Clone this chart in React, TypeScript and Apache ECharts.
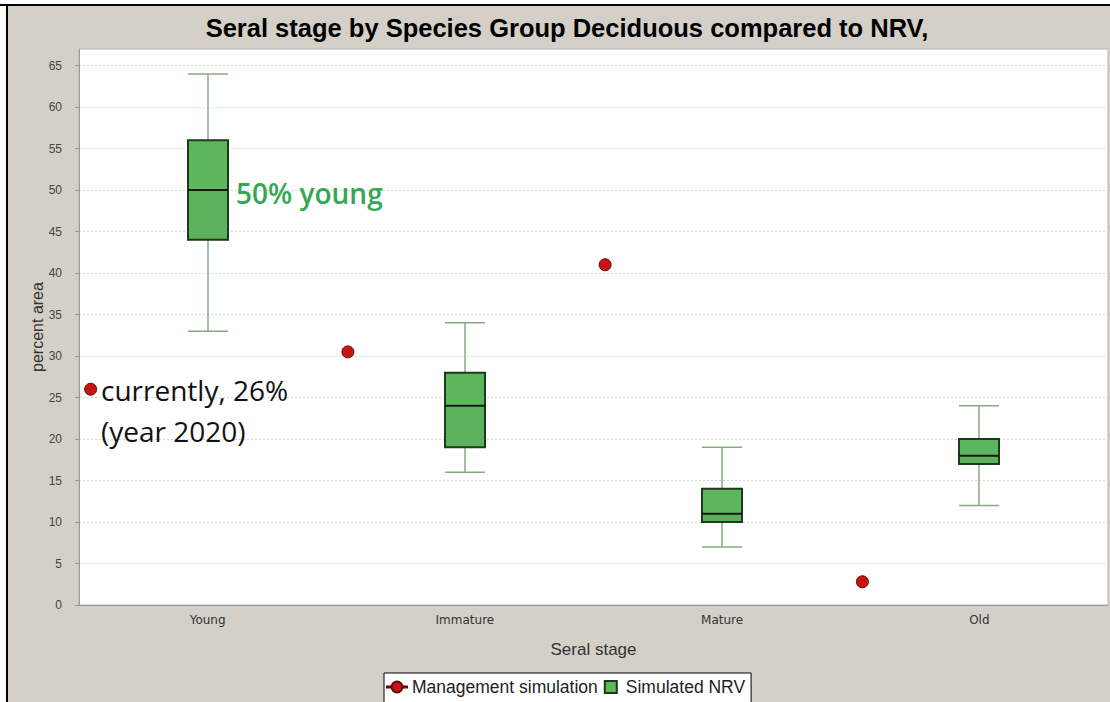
import React, { useEffect, useRef } from "react";
import * as echarts from "echarts";

// Seral stages along the x axis
const stages = ["Young", "Immature", "Mature", "Old"];

// Simulated NRV box statistics per stage (percent area)
const nrvLow = [33, 16, 7, 12];
const nrvQ1 = [44, 19, 10, 17];
const nrvMedian = [50, 24, 11, 18];
const nrvQ3 = [56, 28, 14, 20];
const nrvHigh = [64, 34, 19, 24];

// Management simulation result per stage (percent area)
const mgmtValues = [26, 30.5, 41, 2.8];

// Y axis range and step
const yMin = 0;
const yMax = 67;
const yStep = 5;

const titleText = "Seral stage by Species Group Deciduous compared to NRV,";

const BOX_FILL_TOP = "#5db85d";
const BOX_FILL_BOTTOM = "#5cb25c";
const BOX_EDGE = "#1e3a1e";
const WHISKER = "#86aa86";
const DOT_FILL = "#c81414";
const DOT_EDGE = "#5e0808";

const mgmtIcon =
  "path://M0,5.5H4V6.5H0Z M16,5.5H20V6.5H16Z M10,0.5A5.5,5.5 0 1,1 10,11.5A5.5,5.5 0 1,1 10,0.5Z";
const squareIcon = "path://M0,0H10V10H0Z";

export default function App() {
  const ref = useRef<HTMLDivElement>(null);

  useEffect(() => {
    if (!ref.current) return;
    const chart = echarts.init(ref.current, undefined, { renderer: "svg" });

    const boxData = stages.map((_, i) => [
      i,
      nrvLow[i],
      nrvQ1[i],
      nrvMedian[i],
      nrvQ3[i],
      nrvHigh[i],
    ]);

    const renderBox = (params: any, api: any) => {
      const idx = api.value(0);
      const low = api.coord([idx, api.value(1)]);
      const q1 = api.coord([idx, api.value(2)]);
      const med = api.coord([idx, api.value(3)]);
      const q3 = api.coord([idx, api.value(4)]);
      const high = api.coord([idx, api.value(5)]);
      const band = api.size([1, 0])[0];
      const half = Math.round(band * 0.078);
      const cx = Math.round(low[0]);
      const x0 = cx - half;
      const x1 = cx + half;
      const wStyle = { stroke: WHISKER, lineWidth: 1.5 };
      return {
        type: "group",
        children: [
          { type: "line", shape: { x1: cx, y1: high[1], x2: cx, y2: q3[1] }, style: wStyle },
          { type: "line", shape: { x1: cx, y1: q1[1], x2: cx, y2: low[1] }, style: wStyle },
          { type: "line", shape: { x1: x0, y1: high[1], x2: x1, y2: high[1] }, style: wStyle },
          { type: "line", shape: { x1: x0, y1: low[1], x2: x1, y2: low[1] }, style: wStyle },
          {
            type: "rect",
            shape: { x: x0, y: q3[1], width: x1 - x0, height: med[1] - q3[1] },
            style: { fill: BOX_FILL_TOP, stroke: null },
          },
          {
            type: "rect",
            shape: { x: x0, y: med[1], width: x1 - x0, height: q1[1] - med[1] },
            style: { fill: BOX_FILL_BOTTOM, stroke: null },
          },
          {
            type: "rect",
            shape: { x: x0, y: q3[1], width: x1 - x0, height: q1[1] - q3[1] },
            style: { fill: "none", stroke: BOX_EDGE, lineWidth: 2 },
          },
          {
            type: "line",
            shape: { x1: x0, y1: med[1], x2: x1, y2: med[1] },
            style: { stroke: "#0d1a0d", lineWidth: 2 },
          },
        ],
      };
    };

    chart.setOption({
      animation: false,
      backgroundColor: "#d4d0c8",
      title: {
        text: titleText,
        left: 562,
        textAlign: "center",
        top: 10,
        textStyle: {
          fontFamily: "Liberation Sans",
          fontWeight: "bold",
          fontSize: 25.5,
          color: "#000",
        },
      },
      grid: {
        left: 79,
        right: 2,
        top: 49,
        bottom: 97,
        show: true,
        backgroundColor: "#ffffff",
        borderColor: "#b8b8b8",
        borderWidth: 1,
      },
      legend: {
        left: 384,
        top: 673,
        orient: "horizontal",
        backgroundColor: "#ffffff",
        borderColor: "#000000",
        borderWidth: 1,
        borderRadius: 0,
        padding: [5, 6, 14, 2],
        itemGap: 6,
        itemWidth: 20,
        itemHeight: 12,
        symbolKeepAspect: true,
        textStyle: { fontFamily: "Liberation Sans", fontSize: 17.5, color: "#222" },
        data: [
          { name: "Management simulation", icon: mgmtIcon },
          { name: "Simulated NRV", icon: squareIcon },
        ],
      },
      xAxis: {
        type: "category",
        data: stages,
        axisLine: { lineStyle: { color: "#9a9a9a", width: 1 } },
        axisTick: { show: false },
        axisLabel: {
          fontFamily: "DejaVu Sans",
          fontSize: 12,
          color: "#333",
          margin: 9,
        },
        name: "Seral stage",
        nameLocation: "middle",
        nameGap: 36,
        nameMoveOverlap: false,
        nameTextStyle: { fontFamily: "Liberation Sans", fontSize: 17, color: "#333" },
        splitLine: { show: false },
      },
      yAxis: {
        type: "value",
        min: yMin,
        max: yMax,
        interval: yStep,
        axisLine: { show: true, lineStyle: { color: "#9a9a9a", width: 1 } },
        axisTick: { show: true, length: 4, lineStyle: { color: "#9a9a9a" } },
        axisLabel: {
          fontFamily: "Liberation Sans",
          fontSize: 12,
          color: "#444",
          margin: 17,
          showMaxLabel: false,
        },
        splitLine: {
          show: true,
          lineStyle: { color: "#d4d4d4", type: [2, 2], width: 1 },
        },
        name: "percent area",
        nameLocation: "middle",
        nameGap: 34,
        nameMoveOverlap: false,
        nameTextStyle: { fontFamily: "Liberation Sans", fontSize: 16, color: "#333" },
      },
      series: [
        {
          name: "Management simulation",
          type: "scatter",
          data: mgmtValues,
          symbol: "circle",
          symbolSize: 12,
          symbolOffset: [-117, 0],
          itemStyle: { color: DOT_FILL, borderColor: DOT_EDGE, borderWidth: 1, opacity: 1 },
          z: 5,
        },
        {
          name: "Simulated NRV",
          type: "custom",
          data: boxData,
          encode: { x: 0, y: [1, 2, 3, 4, 5] },
          renderItem: renderBox,
          itemStyle: { color: BOX_FILL_TOP, borderColor: BOX_EDGE, borderWidth: 1 },
          z: 3,
        },
      ],
      graphic: [
        { type: "rect", z: 100, shape: { x: 0, y: 0, width: 1110, height: 4 }, style: { fill: "#ffffff" } },
        { type: "rect", z: 100, shape: { x: 0, y: 4, width: 1110, height: 2 }, style: { fill: "#000000" } },
        { type: "rect", z: 100, shape: { x: 0, y: 6, width: 6, height: 696 }, style: { fill: "#ffffff" } },
        { type: "rect", z: 100, shape: { x: 6, y: 4, width: 2, height: 698 }, style: { fill: "#000000" } },
        {
          type: "text",
          z: 50,
          x: 236,
          y: 193,
          style: {
            text: "50% young",
            fontFamily: "Open Sans",
            fontWeight: 600,
            fontSize: 28,
            fill: "#34a853",
            textVerticalAlign: "middle",
          },
        },
        {
          type: "text",
          z: 50,
          x: 101,
          y: 390,
          style: {
            text: "currently, 26%",
            fontFamily: "Open Sans",
            fontSize: 28,
            fill: "#111111",
            textVerticalAlign: "middle",
          },
        },
        {
          type: "text",
          z: 50,
          x: 101,
          y: 431,
          style: {
            text: "(year 2020)",
            fontFamily: "Open Sans",
            fontSize: 28,
            fill: "#111111",
            textVerticalAlign: "middle",
          },
        },
      ],
    });

    return () => chart.dispose();
  }, []);

  return (
    <div
      ref={ref}
      style={{ position: "fixed", left: 0, top: 0, width: 1110, height: 702 }}
    />
  );
}
